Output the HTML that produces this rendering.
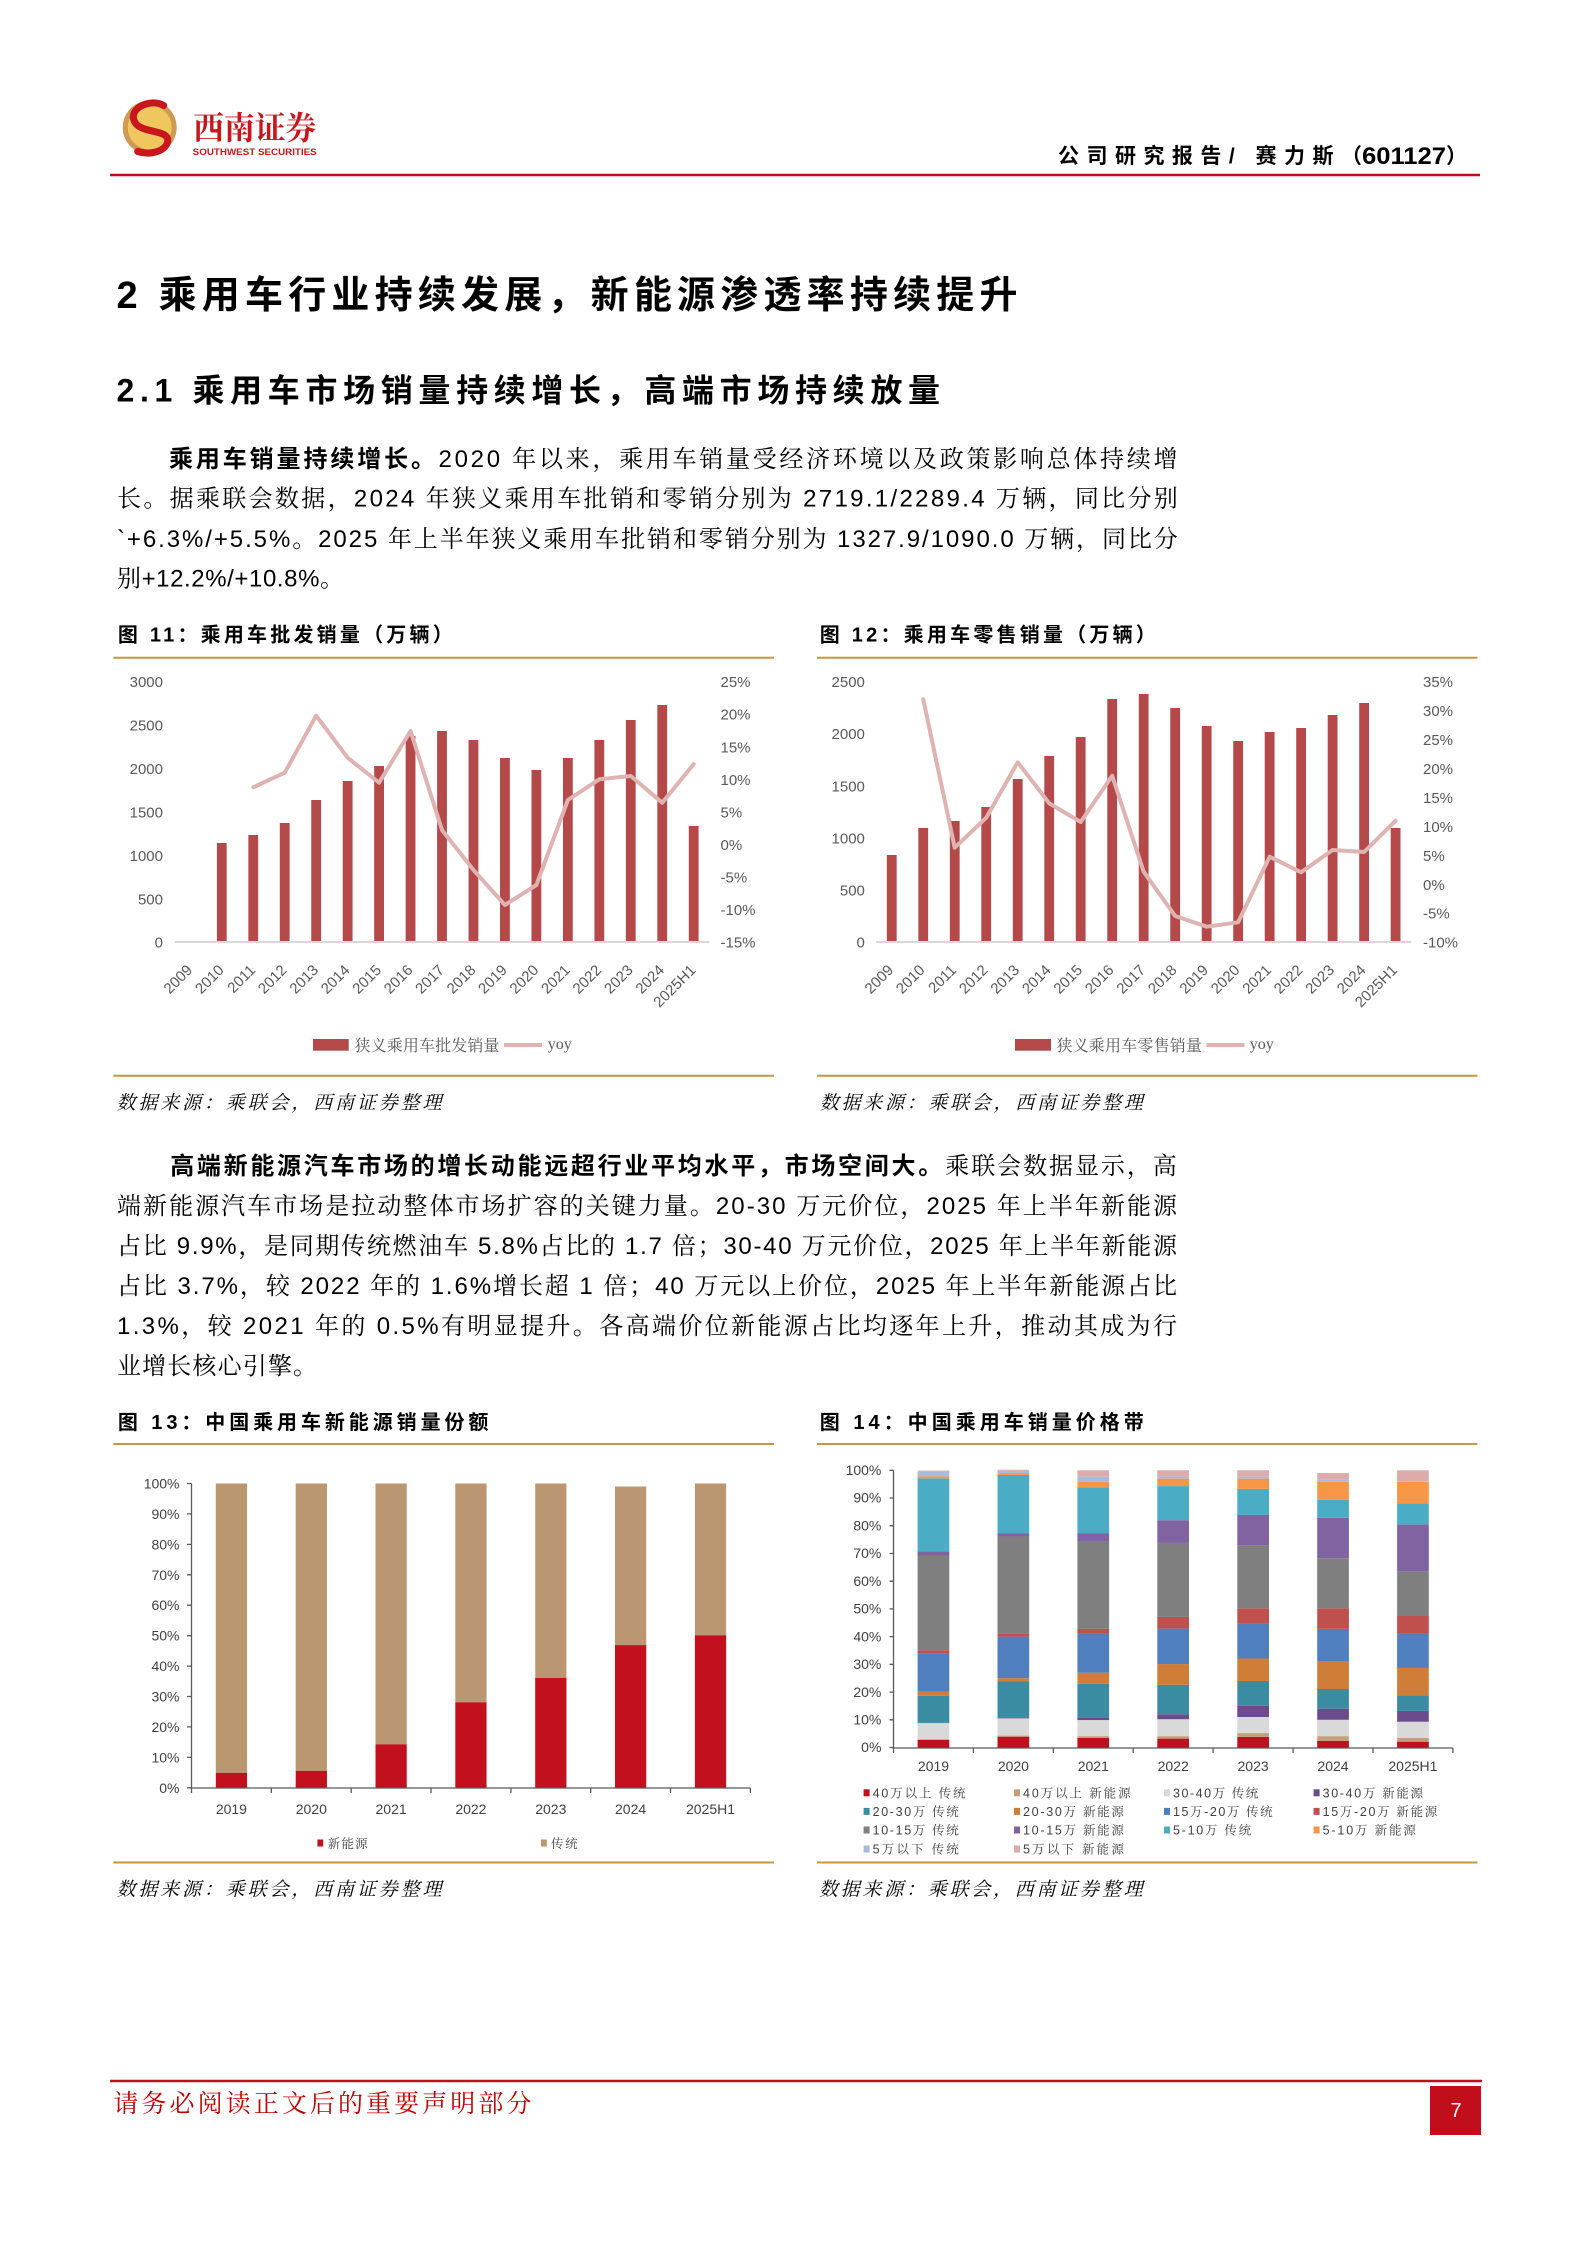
<!DOCTYPE html>
<html><head><meta charset="utf-8">
<style>html,body{margin:0;padding:0;background:#fff}svg{display:block}</style>
</head><body>
<svg xmlns="http://www.w3.org/2000/svg" width="1588" height="2246" viewBox="0 0 1588 2246">
<style>
.hb{font-family:"Liberation Sans","Noto Sans CJK SC",sans-serif;font-weight:700;fill:#000}
.bd{font-family:"Liberation Sans","Noto Serif CJK SC",serif;font-size:24px;fill:#000}
.bb{font-family:"Liberation Sans","Noto Sans CJK SC",sans-serif;font-weight:700;font-size:24px;fill:#000}
.ax{font-family:"Liberation Sans","Noto Sans CJK SC",sans-serif;fill:#595959;font-size:15px}
.ax2{font-family:"Liberation Sans","Noto Sans CJK SC",sans-serif;fill:#404040;font-size:14px}
.lg{font-family:"Liberation Sans","Noto Serif CJK SC",serif;fill:#595959;font-size:16px}
.lg2{font-family:"Liberation Sans","Noto Serif CJK SC",serif;fill:#404040;font-size:12.5px}
.src{font-family:"Liberation Serif","Noto Serif CJK SC",serif;font-style:italic;font-size:19px;fill:#000}
</style>
<rect width="1588" height="2246" fill="#fff"/>

<!-- Logo -->
<circle cx="149.7" cy="127.5" r="27" fill="#cf9a55"/>
<circle cx="149.7" cy="127.5" r="22" fill="#f0c65e"/>
<path d="M 163.7 105.5 C 149.7 97.5 125.7 109.5 135.7 123.5 C 143.7 133.5 169.7 129.5 167.7 141.5 C 165.7 151.5 149.7 155.5 137.7 151.5" fill="none" stroke="#c8161d" stroke-width="7" stroke-linecap="round"/>
<text x="193.3" y="139" font-family="'Noto Serif CJK SC',serif" font-weight="700" font-size="32" fill="#c8161d" textLength="123" lengthAdjust="spacingAndGlyphs">西南证券</text>
<text x="192.7" y="155" font-family="'Liberation Sans',sans-serif" font-weight="700" font-size="9.5" fill="#c8161d" textLength="124" lengthAdjust="spacingAndGlyphs">SOUTHWEST SECURITIES</text>

<text class="hb" x="1058" y="163" font-size="21" textLength="304">公司研究报告/ 赛力斯（</text>
<text class="hb" x="1362" y="164" font-size="24" textLength="84" lengthAdjust="spacingAndGlyphs">601127</text>
<text class="hb" x="1446" y="163" font-size="21">）</text>
<line x1="110" y1="175" x2="1480" y2="175" stroke="#c00d1a" stroke-width="2.5"/>

<!-- Headings -->
<text class="hb" x="116.5" y="308" font-size="38" textLength="901">2 乘用车行业持续发展，新能源渗透率持续提升</text>
<text class="hb" x="116.5" y="401.7" font-size="32" textLength="823.5">2.1 乘用车市场销量持续增长，高端市场持续放量</text>

<!-- Paragraph 1 -->
<text class="bb" x="169" y="467" textLength="266">乘用车销量持续增长。</text>
<text class="bd" x="438.5" y="467" textLength="739">2020 年以来，乘用车销量受经济环境以及政策影响总体持续增</text>
<text class="bd" x="117" y="506.5" textLength="1060.8">长。据乘联会数据，2024 年狭义乘用车批销和零销分别为 2719.1/2289.4 万辆，同比分别</text>
<text class="bd" x="117" y="547" textLength="1060.8">`+6.3%/+5.5%。2025 年上半年狭义乘用车批销和零销分别为 1327.9/1090.0 万辆，同比分</text>
<text class="bd" x="117" y="586.5" textLength="227">别+12.2%/+10.8%。</text>

<!-- Chart 11 -->
<text class="hb" x="117.9" y="641.6" font-size="20" textLength="334.8">图 11：乘用车批发销量（万辆）</text>
<line x1="113.4" y1="657.7" x2="774" y2="657.7" stroke="#c8963e" stroke-width="2"/>
<g class="ax" text-anchor="end">
<text x="163" y="687.1">3000</text><text x="163" y="730.5">2500</text><text x="163" y="774">2000</text><text x="163" y="817.4">1500</text><text x="163" y="860.8">1000</text><text x="163" y="904.3">500</text><text x="163" y="947.7">0</text>
</g>
<g class="ax">
<text x="720.5" y="687.1">25%</text><text x="720.5" y="719.7">20%</text><text x="720.5" y="752.3">15%</text><text x="720.5" y="784.8">10%</text><text x="720.5" y="817.4">5%</text><text x="720.5" y="850">0%</text><text x="720.5" y="882.6">-5%</text><text x="720.5" y="915.1">-10%</text><text x="720.5" y="947.7">-15%</text>
</g>
<g fill="#b5494a">
<rect x="216.9" y="843" width="9.8" height="98.5"/>
<rect x="248.35" y="835" width="9.8" height="106.5"/>
<rect x="279.81" y="823" width="9.8" height="118.5"/>
<rect x="311.27" y="800" width="9.8" height="141.5"/>
<rect x="342.73" y="781" width="9.8" height="160.5"/>
<rect x="374.19" y="766" width="9.8" height="175.5"/>
<rect x="405.65" y="736" width="9.8" height="205.5"/>
<rect x="437.11" y="731" width="9.8" height="210.5"/>
<rect x="468.57" y="740" width="9.8" height="201.5"/>
<rect x="500.03" y="758" width="9.8" height="183.5"/>
<rect x="531.49" y="770" width="9.8" height="171.5"/>
<rect x="562.95" y="758" width="9.8" height="183.5"/>
<rect x="594.41" y="740" width="9.8" height="201.5"/>
<rect x="625.87" y="720" width="9.8" height="221.5"/>
<rect x="657.33" y="705" width="9.8" height="236.5"/>
<rect x="688.79" y="826" width="9.8" height="115.5"/>
</g>
<line x1="174.6" y1="942" x2="709.4" y2="942" stroke="#d9d9d9" stroke-width="2"/>
<polyline fill="none" stroke="#dfb3b1" stroke-width="4" stroke-linejoin="round" stroke-linecap="round" points="253.25,787.3 284.71,772.7 316.17,715.7 347.63,757.7 379.09,782.7 410.55,731 442.01,830 473.47,870 504.93,905 536.39,885 567.85,800 599.31,779.3 630.77,776 662.23,802.7 693.69,764"/>
<g class="ax" text-anchor="end">
<text transform="translate(193.3,971) rotate(-45)">2009</text>
<text transform="translate(224.8,971) rotate(-45)">2010</text>
<text transform="translate(256.3,971) rotate(-45)">2011</text>
<text transform="translate(287.7,971) rotate(-45)">2012</text>
<text transform="translate(319.2,971) rotate(-45)">2013</text>
<text transform="translate(350.6,971) rotate(-45)">2014</text>
<text transform="translate(382.1,971) rotate(-45)">2015</text>
<text transform="translate(413.6,971) rotate(-45)">2016</text>
<text transform="translate(445.0,971) rotate(-45)">2017</text>
<text transform="translate(476.5,971) rotate(-45)">2018</text>
<text transform="translate(507.9,971) rotate(-45)">2019</text>
<text transform="translate(539.4,971) rotate(-45)">2020</text>
<text transform="translate(570.9,971) rotate(-45)">2021</text>
<text transform="translate(602.3,971) rotate(-45)">2022</text>
<text transform="translate(633.8,971) rotate(-45)">2023</text>
<text transform="translate(665.2,971) rotate(-45)">2024</text>
<text transform="translate(696.7,971) rotate(-45)">2025H1</text>
</g>
<rect x="313" y="1039" width="35.7" height="11.7" fill="#b5494a"/>
<text class="lg" x="354.5" y="1051" textLength="145">狭义乘用车批发销量</text>
<line x1="504" y1="1045" x2="542" y2="1045" stroke="#dfb3b1" stroke-width="4"/>
<text x="547.8" y="1049" font-family="'Liberation Serif',serif" font-size="16" fill="#595959">yoy</text>
<line x1="113.4" y1="1075.7" x2="774" y2="1075.7" stroke="#c8963e" stroke-width="2"/>
<text class="src" x="116.5" y="1109" textLength="325">数据来源：乘联会，西南证券整理</text>

<!-- Chart 12 -->
<text class="hb" x="819.8" y="641.6" font-size="20" textLength="336">图 12：乘用车零售销量（万辆）</text>
<line x1="817" y1="657.7" x2="1477.4" y2="657.7" stroke="#c8963e" stroke-width="2"/>
<g class="ax" text-anchor="end">
<text x="864.9" y="687.1">2500</text><text x="864.9" y="739.2">2000</text><text x="864.9" y="791.3">1500</text><text x="864.9" y="843.4">1000</text><text x="864.9" y="895.5">500</text><text x="864.9" y="947.6">0</text>
</g>
<g class="ax">
<text x="1423" y="687.1">35%</text><text x="1423" y="716.1">30%</text><text x="1423" y="745">25%</text><text x="1423" y="774">20%</text><text x="1423" y="802.9">15%</text><text x="1423" y="831.9">10%</text><text x="1423" y="860.8">5%</text><text x="1423" y="889.8">0%</text><text x="1423" y="918.7">-5%</text><text x="1423" y="947.7">-10%</text>
</g>
<g fill="#b5494a">
<rect x="886.85" y="855" width="9.8" height="86.5"/>
<rect x="918.34" y="828" width="9.8" height="113.5"/>
<rect x="949.83" y="821" width="9.8" height="120.5"/>
<rect x="981.32" y="807" width="9.8" height="134.5"/>
<rect x="1012.81" y="779" width="9.8" height="162.5"/>
<rect x="1044.3" y="756" width="9.8" height="185.5"/>
<rect x="1075.79" y="737" width="9.8" height="204.5"/>
<rect x="1107.28" y="699" width="9.8" height="242.5"/>
<rect x="1138.77" y="694" width="9.8" height="247.5"/>
<rect x="1170.26" y="708" width="9.8" height="233.5"/>
<rect x="1201.75" y="726" width="9.8" height="215.5"/>
<rect x="1233.24" y="741" width="9.8" height="200.5"/>
<rect x="1264.73" y="732" width="9.8" height="209.5"/>
<rect x="1296.22" y="728" width="9.8" height="213.5"/>
<rect x="1327.71" y="715" width="9.8" height="226.5"/>
<rect x="1359.2" y="703" width="9.8" height="238.5"/>
<rect x="1390.69" y="828" width="9.8" height="113.5"/>
</g>
<line x1="876" y1="942" x2="1411.3" y2="942" stroke="#d9d9d9" stroke-width="2"/>
<polyline fill="none" stroke="#dfb3b1" stroke-width="4" stroke-linejoin="round" stroke-linecap="round" points="923.24,699.3 954.73,847.7 986.22,817.7 1017.71,762.3 1049.2,803.3 1080.69,822 1112.18,775.7 1143.67,871.7 1175.16,916 1206.65,926.7 1238.14,922.3 1269.63,856.7 1301.12,872.3 1332.61,850 1364.1,852 1395.59,820.7"/>
<g class="ax" text-anchor="end">
<text transform="translate(894.3,971) rotate(-45)">2009</text>
<text transform="translate(925.7,971) rotate(-45)">2010</text>
<text transform="translate(957.2,971) rotate(-45)">2011</text>
<text transform="translate(988.7,971) rotate(-45)">2012</text>
<text transform="translate(1020.2,971) rotate(-45)">2013</text>
<text transform="translate(1051.7,971) rotate(-45)">2014</text>
<text transform="translate(1083.2,971) rotate(-45)">2015</text>
<text transform="translate(1114.7,971) rotate(-45)">2016</text>
<text transform="translate(1146.2,971) rotate(-45)">2017</text>
<text transform="translate(1177.7,971) rotate(-45)">2018</text>
<text transform="translate(1209.2,971) rotate(-45)">2019</text>
<text transform="translate(1240.6,971) rotate(-45)">2020</text>
<text transform="translate(1272.1,971) rotate(-45)">2021</text>
<text transform="translate(1303.6,971) rotate(-45)">2022</text>
<text transform="translate(1335.1,971) rotate(-45)">2023</text>
<text transform="translate(1366.6,971) rotate(-45)">2024</text>
<text transform="translate(1398.1,971) rotate(-45)">2025H1</text>
</g>
<rect x="1015" y="1039" width="36" height="11.7" fill="#b5494a"/>
<text class="lg" x="1056.4" y="1051" textLength="145.6">狭义乘用车零售销量</text>
<line x1="1206.4" y1="1045" x2="1244.4" y2="1045" stroke="#dfb3b1" stroke-width="4"/>
<text x="1249.7" y="1049" font-family="'Liberation Serif',serif" font-size="16" fill="#595959">yoy</text>
<line x1="817" y1="1075.7" x2="1477.4" y2="1075.7" stroke="#c8963e" stroke-width="2"/>
<text class="src" x="819.8" y="1109" textLength="323">数据来源：乘联会，西南证券整理</text>

<!-- Paragraph 2 -->
<text class="bb" x="170.2" y="1174" textLength="772">高端新能源汽车市场的增长动能远超行业平均水平，市场空间大。</text>
<text class="bd" x="945.3" y="1174" textLength="231.5">乘联会数据显示，高</text>
<text class="bd" x="117" y="1214" textLength="1060">端新能源汽车市场是拉动整体市场扩容的关键力量。20-30 万元价位，2025 年上半年新能源</text>
<text class="bd" x="117" y="1254" textLength="1060">占比 9.9%，是同期传统燃油车 5.8%占比的 1.7 倍；30-40 万元价位，2025 年上半年新能源</text>
<text class="bd" x="117" y="1294" textLength="1060">占比 3.7%，较 2022 年的 1.6%增长超 1 倍；40 万元以上价位，2025 年上半年新能源占比</text>
<text class="bd" x="117" y="1334" textLength="1060">1.3%，较 2021 年的 0.5%有明显提升。各高端价位新能源占比均逐年上升，推动其成为行</text>
<text class="bd" x="117" y="1374" textLength="200">业增长核心引擎。</text>

<!-- Chart 13 -->
<text class="hb" x="117.9" y="1429" font-size="20" textLength="370.5">图 13：中国乘用车新能源销量份额</text>
<line x1="113.4" y1="1444" x2="774" y2="1444" stroke="#c8963e" stroke-width="2"/>
<g class="ax2" text-anchor="end">
<text x="179.5" y="1488.5">100%</text><text x="179.5" y="1518.9">90%</text><text x="179.5" y="1549.4">80%</text><text x="179.5" y="1579.8">70%</text><text x="179.5" y="1610.2">60%</text><text x="179.5" y="1640.7">50%</text><text x="179.5" y="1671.1">40%</text><text x="179.5" y="1701.5">30%</text><text x="179.5" y="1731.9">20%</text><text x="179.5" y="1762.4">10%</text><text x="179.5" y="1792.8">0%</text>
</g>
<g fill="#bb9771">
<rect x="215.8" y="1483.5" width="31.25" height="289.4"/>
<rect x="295.7" y="1483.5" width="31.25" height="287.3"/>
<rect x="375.5" y="1483.5" width="31.25" height="260.8"/>
<rect x="455.3" y="1483.5" width="31.25" height="218.8"/>
<rect x="535.2" y="1483.5" width="31.25" height="194.4"/>
<rect x="615.0" y="1486.5" width="31.25" height="158.6"/>
<rect x="694.9" y="1483.5" width="31.25" height="151.8"/>
</g>
<g fill="#c2101f">
<rect x="215.8" y="1772.9" width="31.25" height="14.9"/>
<rect x="295.7" y="1770.8" width="31.25" height="17"/>
<rect x="375.5" y="1744.3" width="31.25" height="43.5"/>
<rect x="455.3" y="1702.3" width="31.25" height="85.5"/>
<rect x="535.2" y="1677.9" width="31.25" height="109.9"/>
<rect x="615.0" y="1645.1" width="31.25" height="142.7"/>
<rect x="694.9" y="1635.3" width="31.25" height="152.5"/>
</g>
<g stroke="#595959" stroke-width="1.3" fill="none">
<line x1="191.5" y1="1483.5" x2="191.5" y2="1788"/>
<line x1="191.5" y1="1788" x2="750.4" y2="1788"/>
<path d="M187 1483.5H191.5M187 1513.9H191.5M187 1544.4H191.5M187 1574.8H191.5M187 1605.2H191.5M187 1635.7H191.5M187 1666.1H191.5M187 1696.5H191.5M187 1726.9H191.5M187 1757.4H191.5M187 1787.8H191.5"/>
<path d="M191.5 1788V1793M271.3 1788V1793M351.2 1788V1793M431 1788V1793M510.9 1788V1793M590.7 1788V1793M670.5 1788V1793M750.4 1788V1793"/>
</g>
<g class="ax2" text-anchor="middle" font-size="14">
<text x="231.4" y="1814">2019</text><text x="311.3" y="1814">2020</text><text x="391.1" y="1814">2021</text><text x="470.9" y="1814">2022</text><text x="550.8" y="1814">2023</text><text x="630.6" y="1814">2024</text><text x="710.5" y="1814">2025H1</text>
</g>
<rect x="317.4" y="1839.5" width="5.8" height="7" fill="#c2101f"/>
<text class="lg2" x="327.7" y="1848" font-size="13" textLength="40">新能源</text>
<rect x="541" y="1839.5" width="5.8" height="7" fill="#bb9771"/>
<text class="lg2" x="551" y="1848" font-size="13" textLength="26.7">传统</text>
<line x1="113.4" y1="1862.5" x2="774" y2="1862.5" stroke="#c8963e" stroke-width="2"/>
<text class="src" x="116.5" y="1895.7" textLength="325">数据来源：乘联会，西南证券整理</text>

<!-- Chart 14 -->
<text class="hb" x="819.8" y="1429" font-size="20" textLength="324">图 14：中国乘用车销量价格带</text>
<line x1="817" y1="1444" x2="1477.4" y2="1444" stroke="#c8963e" stroke-width="2"/>
<g class="ax2" text-anchor="end" font-size="13">
<text x="881.4" y="1475">100%</text><text x="881.4" y="1502.7">90%</text><text x="881.4" y="1530.4">80%</text><text x="881.4" y="1558.2">70%</text><text x="881.4" y="1585.9">60%</text><text x="881.4" y="1613.6">50%</text><text x="881.4" y="1641.3">40%</text><text x="881.4" y="1669">30%</text><text x="881.4" y="1696.8">20%</text><text x="881.4" y="1724.5">10%</text><text x="881.4" y="1752.2">0%</text>
</g>
<g transform="translate(917.6,1747.5) scale(1,-2.772)">
<rect x="0" width="31.7" y="0" height="2.8" fill="#c00f1f"/><rect x="0" width="31.7" y="2.8" height="0.2" fill="#c4a07a"/><rect x="0" width="31.7" y="3.0" height="5.8" fill="#d9d9d9"/><rect x="0" width="31.7" y="8.8" height="0.1" fill="#6b4b8c"/><rect x="0" width="31.7" y="8.9" height="9.8" fill="#3a8ca2"/><rect x="0" width="31.7" y="18.7" height="1.4" fill="#d07d38"/><rect x="0" width="31.7" y="20.1" height="13.7" fill="#4f7fbf"/><rect x="0" width="31.7" y="33.8" height="1.3" fill="#c0504d"/><rect x="0" width="31.7" y="35.1" height="34" fill="#7f7f7f"/><rect x="0" width="31.7" y="69.1" height="1.7" fill="#8064a2"/><rect x="0" width="31.7" y="70.8" height="26.3" fill="#4bacc6"/><rect x="0" width="31.7" y="97.1" height="0.7" fill="#f79646"/><rect x="0" width="31.7" y="97.8" height="1.8" fill="#a9bbdd"/><rect x="0" width="31.7" y="99.6" height="0.3" fill="#dcabab"/>
</g>
<g transform="translate(997.5,1747.5) scale(1,-2.772)">
<rect x="0" width="31.7" y="0" height="3.9" fill="#c00f1f"/><rect x="0" width="31.7" y="3.9" height="0.4" fill="#c4a07a"/><rect x="0" width="31.7" y="4.3" height="6.2" fill="#d9d9d9"/><rect x="0" width="31.7" y="10.5" height="0.4" fill="#6b4b8c"/><rect x="0" width="31.7" y="10.9" height="12.9" fill="#3a8ca2"/><rect x="0" width="31.7" y="23.8" height="1.2" fill="#d07d38"/><rect x="0" width="31.7" y="25" height="15" fill="#4f7fbf"/><rect x="0" width="31.7" y="40" height="1.2" fill="#c0504d"/><rect x="0" width="31.7" y="41.2" height="34.9" fill="#7f7f7f"/><rect x="0" width="31.7" y="76.1" height="1.1" fill="#8064a2"/><rect x="0" width="31.7" y="77.2" height="21.1" fill="#4bacc6"/><rect x="0" width="31.7" y="98.3" height="0.7" fill="#f79646"/><rect x="0" width="31.7" y="99" height="0.8" fill="#a9bbdd"/><rect x="0" width="31.7" y="99.8" height="0.4" fill="#dcabab"/>
</g>
<g transform="translate(1077.4,1747.5) scale(1,-2.772)">
<rect x="0" width="31.7" y="0" height="3.5" fill="#c00f1f"/><rect x="0" width="31.7" y="3.5" height="0.6" fill="#c4a07a"/><rect x="0" width="31.7" y="4.1" height="5.8" fill="#d9d9d9"/><rect x="0" width="31.7" y="9.9" height="1" fill="#6b4b8c"/><rect x="0" width="31.7" y="10.9" height="12.1" fill="#3a8ca2"/><rect x="0" width="31.7" y="23" height="4" fill="#d07d38"/><rect x="0" width="31.7" y="27" height="14.1" fill="#4f7fbf"/><rect x="0" width="31.7" y="41.1" height="1.7" fill="#c0504d"/><rect x="0" width="31.7" y="42.8" height="31.7" fill="#7f7f7f"/><rect x="0" width="31.7" y="74.5" height="2.7" fill="#8064a2"/><rect x="0" width="31.7" y="77.2" height="16.7" fill="#4bacc6"/><rect x="0" width="31.7" y="93.9" height="2" fill="#f79646"/><rect x="0" width="31.7" y="95.9" height="1.8" fill="#a9bbdd"/><rect x="0" width="31.7" y="97.7" height="2.3" fill="#dcabab"/>
</g>
<g transform="translate(1157.3,1747.5) scale(1,-2.772)">
<rect x="0" width="31.7" y="0" height="3.2" fill="#c00f1f"/><rect x="0" width="31.7" y="3.2" height="0.9" fill="#c4a07a"/><rect x="0" width="31.7" y="4.1" height="6.1" fill="#d9d9d9"/><rect x="0" width="31.7" y="10.2" height="1.8" fill="#6b4b8c"/><rect x="0" width="31.7" y="12" height="10.6" fill="#3a8ca2"/><rect x="0" width="31.7" y="22.6" height="7.5" fill="#d07d38"/><rect x="0" width="31.7" y="30.1" height="12.8" fill="#4f7fbf"/><rect x="0" width="31.7" y="42.9" height="4.2" fill="#c0504d"/><rect x="0" width="31.7" y="47.1" height="26.7" fill="#7f7f7f"/><rect x="0" width="31.7" y="73.8" height="8.2" fill="#8064a2"/><rect x="0" width="31.7" y="82" height="12.3" fill="#4bacc6"/><rect x="0" width="31.7" y="94.3" height="2.7" fill="#f79646"/><rect x="0" width="31.7" y="97" height="0.8" fill="#a9bbdd"/><rect x="0" width="31.7" y="97.8" height="2.2" fill="#dcabab"/>
</g>
<g transform="translate(1237.3,1747.5) scale(1,-2.772)">
<rect x="0" width="31.7" y="0" height="3.8" fill="#c00f1f"/><rect x="0" width="31.7" y="3.8" height="1.4" fill="#c4a07a"/><rect x="0" width="31.7" y="5.2" height="5.8" fill="#d9d9d9"/><rect x="0" width="31.7" y="11" height="4" fill="#6b4b8c"/><rect x="0" width="31.7" y="15" height="9" fill="#3a8ca2"/><rect x="0" width="31.7" y="24" height="8.1" fill="#d07d38"/><rect x="0" width="31.7" y="32.1" height="12.5" fill="#4f7fbf"/><rect x="0" width="31.7" y="44.6" height="5.6" fill="#c0504d"/><rect x="0" width="31.7" y="50.2" height="22.8" fill="#7f7f7f"/><rect x="0" width="31.7" y="73" height="10.9" fill="#8064a2"/><rect x="0" width="31.7" y="83.9" height="9.4" fill="#4bacc6"/><rect x="0" width="31.7" y="93.3" height="3.7" fill="#f79646"/><rect x="0" width="31.7" y="97" height="0.7" fill="#a9bbdd"/><rect x="0" width="31.7" y="97.7" height="2.3" fill="#dcabab"/>
</g>
<g transform="translate(1317.2,1747.5) scale(1,-2.772)">
<rect x="0" width="31.7" y="0" height="2.4" fill="#c00f1f"/><rect x="0" width="31.7" y="2.4" height="1.7" fill="#c4a07a"/><rect x="0" width="31.7" y="4.1" height="5.9" fill="#d9d9d9"/><rect x="0" width="31.7" y="10" height="4" fill="#6b4b8c"/><rect x="0" width="31.7" y="14" height="7.1" fill="#3a8ca2"/><rect x="0" width="31.7" y="21.1" height="10.1" fill="#d07d38"/><rect x="0" width="31.7" y="31.2" height="11.6" fill="#4f7fbf"/><rect x="0" width="31.7" y="42.8" height="7.4" fill="#c0504d"/><rect x="0" width="31.7" y="50.2" height="18.1" fill="#7f7f7f"/><rect x="0" width="31.7" y="68.3" height="14.6" fill="#8064a2"/><rect x="0" width="31.7" y="82.9" height="6.5" fill="#4bacc6"/><rect x="0" width="31.7" y="89.4" height="6.5" fill="#f79646"/><rect x="0" width="31.7" y="95.9" height="0.7" fill="#a9bbdd"/><rect x="0" width="31.7" y="96.6" height="2.4" fill="#dcabab"/>
</g>
<g transform="translate(1397.1,1747.5) scale(1,-2.772)">
<rect x="0" width="31.7" y="0" height="2.1" fill="#c00f1f"/><rect x="0" width="31.7" y="2.1" height="1.4" fill="#c4a07a"/><rect x="0" width="31.7" y="3.5" height="5.8" fill="#d9d9d9"/><rect x="0" width="31.7" y="9.3" height="3.9" fill="#6b4b8c"/><rect x="0" width="31.7" y="13.2" height="5.6" fill="#3a8ca2"/><rect x="0" width="31.7" y="18.8" height="9.9" fill="#d07d38"/><rect x="0" width="31.7" y="28.7" height="12.4" fill="#4f7fbf"/><rect x="0" width="31.7" y="41.1" height="6.5" fill="#c0504d"/><rect x="0" width="31.7" y="47.6" height="15.8" fill="#7f7f7f"/><rect x="0" width="31.7" y="63.4" height="17.1" fill="#8064a2"/><rect x="0" width="31.7" y="80.5" height="7.5" fill="#4bacc6"/><rect x="0" width="31.7" y="88" height="7.9" fill="#f79646"/><rect x="0" width="31.7" y="95.9" height="0.1" fill="#a9bbdd"/><rect x="0" width="31.7" y="96" height="4" fill="#dcabab"/>
</g>
<g stroke="#595959" stroke-width="1.3" fill="none">
<line x1="893.5" y1="1470.3" x2="893.5" y2="1748"/>
<line x1="893.5" y1="1748" x2="1452.9" y2="1748"/>
<path d="M889.5 1470.3H893.5M889.5 1498H893.5M889.5 1525.7H893.5M889.5 1553.5H893.5M889.5 1581.2H893.5M889.5 1608.9H893.5M889.5 1636.6H893.5M889.5 1664.3H893.5M889.5 1692.1H893.5M889.5 1719.8H893.5M889.5 1747.5H893.5"/>
<path d="M893.5 1748V1753M973.4 1748V1753M1053.3 1748V1753M1133.2 1748V1753M1213.1 1748V1753M1293.1 1748V1753M1373 1748V1753M1452.9 1748V1753"/>
</g>
<g class="ax2" text-anchor="middle" font-size="14">
<text x="933.5" y="1771">2019</text><text x="1013.4" y="1771">2020</text><text x="1093.3" y="1771">2021</text><text x="1173.2" y="1771">2022</text><text x="1253.1" y="1771">2023</text><text x="1333" y="1771">2024</text><text x="1412.9" y="1771">2025H1</text>
</g>
<rect x="863.6" y="1789.3" width="6" height="7" fill="#c00f1f"/><text class="lg2" x="872.6" y="1797.3" textLength="92.9">40万以上 传统</text>
<rect x="1014" y="1789.3" width="6" height="7" fill="#c4a07a"/><text class="lg2" x="1023" y="1797.3" textLength="107.6">40万以上 新能源</text>
<rect x="1164" y="1789.3" width="6" height="7" fill="#d9d9d9"/><text class="lg2" x="1173" y="1797.3" textLength="85.3">30-40万 传统</text>
<rect x="1313.6" y="1789.3" width="6" height="7" fill="#6b4b8c"/><text class="lg2" x="1322.6" y="1797.3" textLength="100.4">30-40万 新能源</text>
<rect x="863.6" y="1807.9" width="6" height="7" fill="#3a8ca2"/><text class="lg2" x="872.6" y="1815.9" textLength="86.2">20-30万 传统</text>
<rect x="1014" y="1807.9" width="6" height="7" fill="#d07d38"/><text class="lg2" x="1023" y="1815.9" textLength="100.9">20-30万 新能源</text>
<rect x="1164" y="1807.9" width="6" height="7" fill="#4f7fbf"/><text class="lg2" x="1173" y="1815.9" textLength="99.6">15万-20万 传统</text>
<rect x="1313.6" y="1807.9" width="6" height="7" fill="#c0504d"/><text class="lg2" x="1322.6" y="1815.9" textLength="114.7">15万-20万 新能源</text>
<rect x="863.6" y="1826.5" width="6" height="7" fill="#7f7f7f"/><text class="lg2" x="872.6" y="1834.5" textLength="86.2">10-15万 传统</text>
<rect x="1014" y="1826.5" width="6" height="7" fill="#8064a2"/><text class="lg2" x="1023" y="1834.5" textLength="100.9">10-15万 新能源</text>
<rect x="1164" y="1826.5" width="6" height="7" fill="#4bacc6"/><text class="lg2" x="1173" y="1834.5" textLength="78.1">5-10万 传统</text>
<rect x="1313.6" y="1826.5" width="6" height="7" fill="#f79646"/><text class="lg2" x="1322.6" y="1834.5" textLength="93.3">5-10万 新能源</text>
<rect x="863.6" y="1845.5" width="6" height="7" fill="#a9bbdd"/><text class="lg2" x="872.6" y="1853.5" textLength="86.2">5万以下 传统</text>
<rect x="1014" y="1845.5" width="6" height="7" fill="#dcabab"/><text class="lg2" x="1023" y="1853.5" textLength="100.9">5万以下 新能源</text>
<line x1="817" y1="1862.5" x2="1477.4" y2="1862.5" stroke="#c8963e" stroke-width="2"/>
<text class="src" x="818.9" y="1895.7" textLength="323.7">数据来源：乘联会，西南证券整理</text>

<!-- Footer -->
<line x1="110" y1="2081" x2="1482" y2="2081" stroke="#c20e1a" stroke-width="2.5"/>
<text x="113.4" y="2112" font-family="'Noto Serif CJK SC',serif" font-size="25" fill="#c00000" textLength="418">请务必阅读正文后的重要声明部分</text>
<rect x="1430" y="2086" width="51" height="49" fill="#c20e1a"/>
<text x="1456" y="2117" font-family="'Liberation Sans',sans-serif" font-size="20" fill="#fff" text-anchor="middle">7</text>
</svg>
</body></html>
